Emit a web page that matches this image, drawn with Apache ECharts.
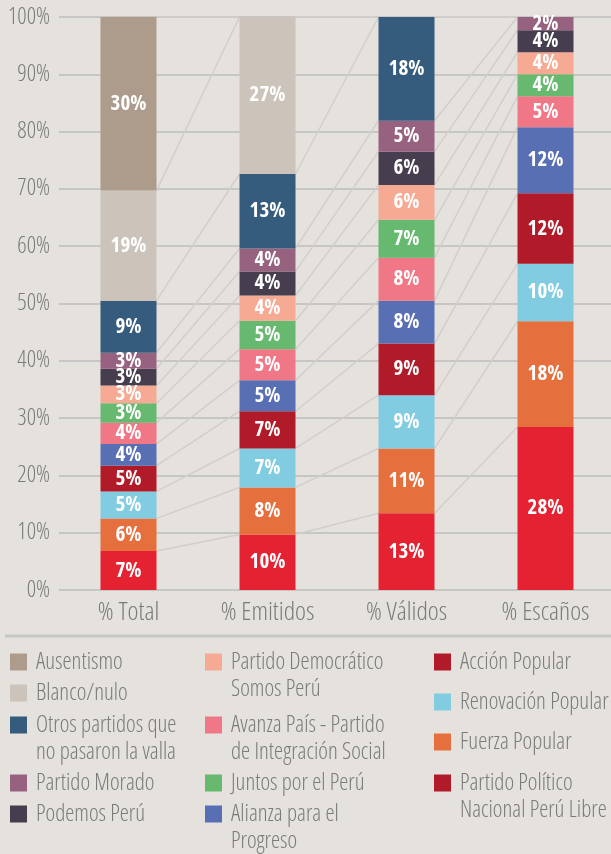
<!DOCTYPE html>
<html>
<head>
<meta charset="utf-8" />
<title>Elecciones congresales</title>
<script src="https://cdn.jsdelivr.net/npm/echarts@6/dist/echarts.min.js"></script>
<style>
  html, body { margin: 0; padding: 0; background: #e5e1dd; }
  #main { width: 611px; height: 854px; }
</style>
</head>
<body>
<div id="main"></div>
<script type="text/javascript">
// categorías del eje x
var categories = ['% Total', '% Emitidos', '% Válidos', '% Escaños'];

// partidos, de abajo hacia arriba en la pila
var parties = [
  'Partido Político Nacional Perú Libre',
  'Fuerza Popular',
  'Renovación Popular',
  'Acción Popular',
  'Alianza para el Progreso',
  'Avanza País - Partido de Integración Social',
  'Juntos por el Perú',
  'Partido Democrático Somos Perú',
  'Podemos Perú',
  'Partido Morado',
  'Otros partidos que no pasaron la valla',
  'Blanco/nulo',
  'Ausentismo'
];
var colors = ['#e52232', '#e5703d', '#82cce2', '#b11b29', '#5870b3', '#f07786',
  '#66b96e', '#f6aa93', '#463e4e', '#97627f', '#355c7d', '#ccc3ba', '#ad9c8c'];

// valores (%) por categoría, mismo orden que parties
var total    = [6.8, 5.7, 4.7, 4.5, 3.8, 3.7, 3.4, 3.1, 2.9, 2.8, 9.1, 19.2, 30.3];
var emitidos = [9.7, 8.2, 6.8, 6.5, 5.4, 5.4, 5.0, 4.4, 4.2, 4.0, 13.0, 27.4, 0];
var validos  = [13.4, 11.3, 9.3, 9.0, 7.5, 7.5, 6.6, 6.1, 5.8, 5.4, 18.1, 0, 0];
var escanos  = [28.46, 18.46, 10.0, 12.31, 11.54, 5.38, 3.85, 3.85, 3.85, 2.31, 0, 0, 0];

var yTicks = [0, 10, 20, 30, 40, 50, 60, 70, 80, 90, 100];

// Open Sans condensed face (font-stretch keyword goes in the weight slot)
var FONT = '"Open Sans", sans-serif';
var LIGHT = '300 condensed';
var BOLD = 'bold condensed';
var GREY = '#7b7b7b';
var GRID_W = 556, BAR_W = 56;

var columns = [total, emitidos, validos, escanos];

// cumulative tops of each stack segment, per category
var tops = columns.map(function (col) {
  var acc = 0;
  return col.map(function (v) { acc += v; return acc; });
});

var series = [];
// connector lines between neighbouring bars
var hw = (BAR_W / 2) / (GRID_W / categories.length);
parties.forEach(function (p, k) {
  for (var i = 0; i < categories.length - 1; i++) {
    series.push({
      type: 'line',
      xAxisIndex: 1,
      silent: true,
      symbol: 'none',
      z: 1,
      lineStyle: { color: '#d2cecb', width: 1.5 },
      data: [[i + hw, tops[i][k]], [i + 1 - hw, tops[i + 1][k]]]
    });
  }
});

parties.forEach(function (p, k) {
  series.push({
    name: p,
    type: 'bar',
    stack: 'all',
    barWidth: BAR_W,
    z: 3,
    itemStyle: { color: colors[k] },
    label: {
      show: true,
      position: 'inside',
      color: '#ffffff',
      fontFamily: FONT,
      fontWeight: BOLD,
      fontSize: 21,
      formatter: function (d) { return d.value > 0 ? Math.round(d.value) + '%' : ''; }
    },
    data: columns.map(function (col) { return col[k]; })
  });
});

// legend text with line breaks
var legendText = {
  'Partido Democrático Somos Perú': ['Partido Democrático', 'Somos Perú'],
  'Avanza País - Partido de Integración Social': ['Avanza País - Partido', 'de Integración Social'],
  'Otros partidos que no pasaron la valla': ['Otros partidos que', 'no pasaron la valla'],
  'Alianza para el Progreso': ['Alianza para el', 'Progreso'],
  'Partido Político Nacional Perú Libre': ['Partido Político', 'Nacional Perú Libre']
};
// the original legend shows Perú Libre with the darker red swatch
var legendSwatch = { 'Partido Político Nacional Perú Libre': '#b11b29' };
var legendPos = [
  ['Ausentismo', 10, 662], ['Blanco/nulo', 10, 693],
  ['Otros partidos que no pasaron la valla', 10, 725],
  ['Partido Morado', 10, 783], ['Podemos Perú', 10, 814],
  ['Partido Democrático Somos Perú', 205, 662],
  ['Avanza País - Partido de Integración Social', 205, 725],
  ['Juntos por el Perú', 205, 783], ['Alianza para el Progreso', 205, 814],
  ['Acción Popular', 434, 662], ['Renovación Popular', 434, 702],
  ['Fuerza Popular', 434, 742], ['Partido Político Nacional Perú Libre', 434, 783]
];
var legends = legendPos.map(function (e) {
  var n = legendText[e[0]] ? 3 : 1;
  var lg = {
    data: [e[0]],
    left: e[1],
    top: e[2] - n * 13.5,
    padding: 0,
    icon: 'rect',
    itemWidth: 17,
    itemHeight: 17,
    selectedMode: false,
    formatter: function (name) {
      var s = legendText[name];
      return s ? '\n' + s.join('\n') : name;
    },
    textStyle: {
      fontFamily: FONT, fontWeight: LIGHT, fontSize: 23, lineHeight: 27,
      color: GREY, padding: [0, 0, 0, 4]
    }
  };
  if (legendSwatch[e[0]]) lg.itemStyle = { color: legendSwatch[e[0]] };
  return lg;
});

var myChart = echarts.init(document.getElementById('main'));
var option = {
  backgroundColor: '#e5e1dd',
  animation: false,
  grid: { left: 59, top: 17, width: GRID_W, height: 573, outerBoundsMode: 'none', containLabel: false },
  legend: legends,
  xAxis: [{
    type: 'category',
    data: categories,
    axisLine: { show: false },
    axisTick: { show: false },
    axisLabel: { interval: 0, color: GREY, fontFamily: FONT, fontWeight: LIGHT, fontSize: 26, margin: 10 }
  }, {
    type: 'value',
    min: -0.5,
    max: categories.length - 0.5,
    show: false
  }],
  yAxis: {
    type: 'value',
    min: yTicks[0],
    max: yTicks[yTicks.length - 1],
    interval: yTicks[1] - yTicks[0],
    axisLine: { show: false },
    axisTick: { show: false },
    axisLabel: { color: GREY, fontFamily: FONT, fontWeight: LIGHT, fontSize: 23, margin: 9, formatter: '{value}%' },
    splitLine: { lineStyle: { color: '#c8c6c4', width: 2 } }
  },
  graphic: [{
    type: 'line',
    shape: { x1: 5, y1: 636, x2: 611, y2: 636 },
    style: { stroke: '#c8c6c4', lineWidth: 3 },
    silent: true
  }],
  series: series
};
myChart.setOption(option);
</script>
</body>
</html>
